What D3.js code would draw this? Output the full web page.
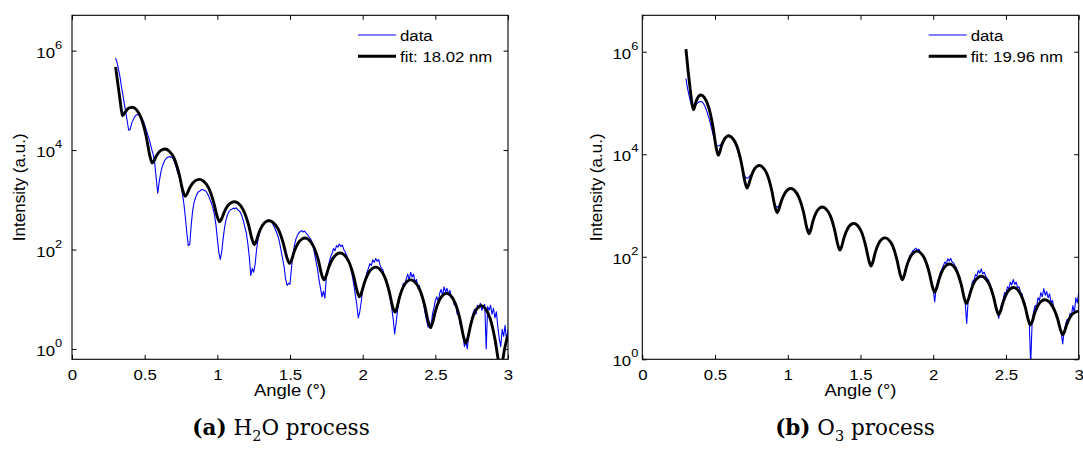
<!DOCTYPE html>
<html>
<head>
<meta charset="utf-8">
<script src="https://cdn.jsdelivr.net/npm/d3@7"></script>
<style>
  body { margin: 0; background: #fff; }
  svg { display: block; }
  .mat text { font-family: "Liberation Sans", Arial, Helvetica, sans-serif; fill: #000; }
  .caption { font-family: "DejaVu Serif", serif; fill: #000; }
</style>
</head>
<body>
<svg id="fig" width="1083" height="458"></svg>
<script>
// ---- measured reflectivity (sampled every 0.01 deg from 0.30 deg) ----
const angleStart = 0.30;
const angleStep = 0.01;

const h2oData = [
  7.1e5, 5.8e5, 4.2e5, 3.0e5, 1.9e5, 1.3e5, 8.5e4, 5.8e4, 3.8e4, 2.5e4,
  2.6e4, 3.4e4, 4.0e4, 4.6e4, 5.0e4, 5.2e4, 5.1e4, 4.8e4, 4.4e4, 3.9e4,
  3.2e4, 2.6e4, 2.1e4, 1.7e4, 1.3e4, 1.0e4, 7.9e3, 5.2e3, 2.6e3, 1.35e3,
  2.3e3, 3.4e3, 4.6e3, 5.5e3, 6.3e3, 6.9e3, 7.2e3, 7.4e3, 7.2e3, 7.1e3,
  6.3e3, 5.2e3, 4.2e3, 3.3e3, 2.8e3, 2.0e3, 1.3e3, 830, 440, 220,
  120, 126, 300, 600, 890, 1.1e3, 1.3e3, 1.45e3, 1.5e3, 1.6e3,
  1.6e3, 1.55e3, 1.5e3, 1.35e3, 1.2e3, 1.0e3, 850, 680, 500, 320,
  166, 89, 63, 89, 166, 280, 400, 500, 575, 630,
  645, 680, 660, 690, 630, 600, 550, 460, 370, 280,
  210, 130, 71, 30, 42, 35, 50, 100, 160, 210,
  260, 300, 340, 360, 380, 400, 380, 360, 330, 290,
  250, 210, 175, 130, 91, 63, 44, 25, 19, 21,
  20, 42, 79, 120, 160, 190, 215, 230, 240, 225,
  235, 215, 200, 180, 166, 145, 120, 79, 56, 40,
  24, 16.6, 11.2, 14.5, 10.5, 28, 40, 56, 72, 85,
  105, 95, 120, 112, 129, 115, 123, 100, 89, 76,
  63, 52, 40, 28, 19, 12, 7.6, 4.2, 5.6, 8.9,
  15, 20, 26, 35, 42, 52, 48, 62, 55, 66,
  58, 63, 48, 42, 38, 29, 25, 18, 14, 10,
  6.6, 4.0, 2.0, 3.3, 6.0, 8.9, 12.6, 15, 21, 19,
  26, 32, 24, 35, 28, 32, 22, 25, 16.6, 19,
  12.6, 10.5, 7.9, 5.2, 3.8, 2.75, 3.5, 2.6, 5.0, 6.6,
  9.5, 11.2, 8.9, 13.2, 15.8, 12, 17.8, 14.1, 16.6, 12.6,
  15.1, 10.5, 11.2, 7.6, 8.3, 5.0, 5.6, 3.2, 2.6, 1.9,
  1.12, 1.41, 1.0, 2.0, 2.8, 4.0, 5.2, 6.3, 5.0, 7.6,
  6.6, 8.3, 6.0, 7.2, 7.9, 1.0, 7.1, 6.0, 7.6, 5.0,
  6.6, 4.2, 5.6, 2.8, 1.6, 1.12, 2.5, 1.8, 3.0, 1.4,
  2.5
];

const o3Data = [
  3.0e5, 2.0e5, 1.45e5, 1.1e5, 8.9e4, 7.9e4, 8.3e4, 9.3e4, 1.0e5, 1.05e5,
  1.07e5, 1.05e5, 9.8e4, 8.7e4, 7.4e4, 6.0e4, 4.9e4, 3.8e4, 2.9e4, 2.2e4,
  1.8e4, 1.5e4, 1.45e4, 1.48e4, 1.55e4, 1.74e4, 1.95e4, 2.1e4, 2.2e4, 2.3e4,
  2.2e4, 2.1e4, 2.0e4, 1.8e4, 1.55e4, 1.3e4, 1.07e4, 8.5e3, 6.6e3, 5.0e3,
  4.0e3, 3.5e3, 3.4e3, 3.5e3, 3.8e3, 4.0e3, 4.6e3, 5.0e3, 5.5e3, 5.8e3,
  5.9e3, 5.9e3, 5.8e3, 5.5e3, 5.0e3, 4.5e3, 3.9e3, 3.2e3, 2.5e3, 1.95e3,
  1.4e3, 1.1e3, 950, 930, 1.0e3, 1.12e3, 1.35e3, 1.55e3, 1.74e3, 1.9e3,
  2.0e3, 2.1e3, 2.1e3, 2.1e3, 2.0e3, 1.9e3, 1.74e3, 1.55e3, 1.35e3, 1.12e3,
  890, 690, 525, 400, 340, 330, 370, 470, 575, 675,
  760, 830, 890, 910, 910, 890, 850, 795, 725, 645,
  550, 445, 345, 265, 190, 148, 135, 155, 200, 250,
  295, 345, 380, 415, 435, 445, 435, 425, 405, 370,
  330, 290, 235, 185, 140, 105, 79, 68, 72, 91,
  117, 141, 170, 190, 209, 224, 234, 240, 229, 219,
  204, 186, 162, 135, 110, 87, 68, 51, 40, 36,
  43, 59, 72, 89, 107, 115, 132, 138, 148, 135,
  141, 126, 112, 102, 91, 76, 63, 50, 40, 30,
  23, 13.2, 25, 32, 40, 50, 58, 68, 79, 72,
  91, 83, 93, 79, 76, 66, 60, 48, 42, 32,
  24, 17.8, 12.6, 5.0, 14.1, 20, 24, 33, 35, 45,
  42, 54, 48, 58, 46, 50, 42, 38, 35, 28,
  25, 19, 15.8, 11.2, 9.1, 6.3, 8.9, 12, 14.1, 20,
  19, 26, 24, 32, 28, 36, 29, 32, 25, 26,
  20, 19, 14.1, 12.6, 8.9, 7.1, 5.2, 0.8, 5.6, 8.3,
  11.2, 10.5, 15.8, 14.1, 20, 16.6, 24, 17.8, 21, 15.8,
  19, 12.6, 14.1, 9.5, 8.3, 7.1, 5.0, 4.2, 3.2, 2.0,
  3.5, 4.8, 6.0, 5.0, 7.9, 7.1, 11.2, 7.9, 15.8, 12.6,
  20
];

// ---- model fits (angle in deg, intensity) ----
const h2oFitAngle = [
  0.300, 0.315, 0.330, 0.340, 0.348,
  0.368, 0.385, 0.402, 0.416,
  0.443, 0.477, 0.511, 0.536, 0.552,
  0.563, 0.578, 0.600, 0.622, 0.640,
  0.668, 0.703, 0.737, 0.762, 0.779,
  0.791, 0.808, 0.833, 0.857, 0.877,
  0.905, 0.940, 0.974, 0.999, 1.016,
  1.028, 1.047, 1.072, 1.098, 1.118,
  1.145, 1.180, 1.214, 1.239, 1.255,
  1.267, 1.285, 1.310, 1.335, 1.355,
  1.383, 1.419, 1.454, 1.480, 1.497,
  1.510, 1.529, 1.555, 1.582, 1.603,
  1.629, 1.662, 1.695, 1.718, 1.734,
  1.747, 1.767, 1.795, 1.823, 1.845,
  1.872, 1.905, 1.938, 1.962, 1.978,
  1.991, 2.012, 2.040, 2.068, 2.090,
  2.116, 2.149, 2.182, 2.206, 2.222,
  2.235, 2.254, 2.281, 2.308, 2.330,
  2.357, 2.392, 2.426, 2.451, 2.467,
  2.480, 2.500, 2.528, 2.556, 2.578,
  2.604, 2.637, 2.670, 2.694, 2.710,
  2.723, 2.742, 2.768, 2.795, 2.816,
  2.843, 2.878, 2.912, 2.937, 2.953,
  2.965, 2.980, 3.000
];
const h2oFitIntensity = [
  4.7e5, 2.2e5, 1.05e5, 6.3e4, 4.9e4,
  5.9e4, 6.8e4, 7.15e4, 7.25e4,
  6.5e4, 4.3e4, 1.85e4, 7.6e3, 5.5e3,
  6.0e3, 7.4e3, 9.2e3, 1.02e4, 1.05e4,
  9.6e3, 6.8e3, 3.3e3, 1.55e3, 1.17e3,
  1.3e3, 1.7e3, 2.2e3, 2.5e3, 2.57e3,
  2.38e3, 1.74e3, 910, 460, 363,
  407, 560, 760, 880, 912,
  843, 614, 319, 161, 126,
  145, 212, 305, 364, 380,
  352, 256, 133, 67, 52.5,
  60.8, 91, 134, 162, 170,
  157, 115, 61, 31.3, 24.5,
  28.7, 44, 66.4, 81, 85,
  78.5, 56.8, 29.1, 14.5, 11.2,
  13.3, 21.4, 33.6, 41.8, 44.2,
  40.6, 29.1, 14.6, 7.13, 5.5,
  6.62, 11.1, 18.2, 23.1, 24.5,
  22.5, 15.8, 7.6, 3.55, 2.69,
  3.28, 5.68, 9.6, 12.4, 13.2,
  12.0, 8.3, 3.9, 1.76, 1.32,
  1.64, 2.96, 5.25, 6.9, 7.4,
  6.56, 4.04, 1.48, 0.52, 0.355,
  0.63, 1.12, 1.9
];

const o3FitAngle = [
  0.300, 0.315, 0.330, 0.342, 0.352,
  0.358, 0.367, 0.380, 0.392, 0.402,
  0.426, 0.456, 0.486, 0.508, 0.522,
  0.531, 0.544, 0.562, 0.580, 0.594,
  0.619, 0.651, 0.682, 0.705, 0.720,
  0.730, 0.746, 0.767, 0.788, 0.805,
  0.829, 0.860, 0.890, 0.912, 0.927,
  0.938, 0.955, 0.979, 1.002, 1.021,
  1.046, 1.077, 1.109, 1.131, 1.146,
  1.157, 1.173, 1.196, 1.219, 1.237,
  1.261, 1.292, 1.322, 1.344, 1.359,
  1.370, 1.387, 1.411, 1.434, 1.453,
  1.477, 1.507, 1.536, 1.558, 1.572,
  1.584, 1.601, 1.625, 1.649, 1.668,
  1.692, 1.722, 1.751, 1.773, 1.787,
  1.799, 1.817, 1.843, 1.868, 1.888,
  1.912, 1.943, 1.973, 1.995, 2.010,
  2.022, 2.041, 2.066, 2.092, 2.112,
  2.135, 2.164, 2.193, 2.214, 2.228,
  2.240, 2.259, 2.284, 2.310, 2.330,
  2.354, 2.384, 2.414, 2.436, 2.450,
  2.462, 2.481, 2.506, 2.532, 2.552,
  2.575, 2.604, 2.633, 2.654, 2.668,
  2.680, 2.697, 2.722, 2.746, 2.766,
  2.791, 2.822, 2.854, 2.876, 2.891,
  2.903, 2.920, 2.945, 2.970, 3.000
];
const o3FitIntensity = [
  1.12e6, 4.2e5, 1.78e5, 9.5e4, 7.4e4,
  8.05e4, 1.01e5, 1.25e5, 1.39e5, 1.43e5,
  1.28e5, 8.3e4, 3.4e4, 1.34e4, 9.5e3,
  1.07e4, 1.44e4, 1.92e4, 2.21e4, 2.29e4,
  2.08e4, 1.43e4, 6.6e3, 2.94e3, 2.19e3,
  2.48e3, 3.52e3, 4.92e3, 5.78e3, 6.03e3,
  5.53e3, 3.94e3, 1.96e3, 944, 724,
  830, 1.2e3, 1.72e3, 2.05e3, 2.14e3,
  1.97e3, 1.43e3, 731, 363, 282,
  327, 494, 735, 889, 933,
  863, 634, 335, 172, 135,
  157, 237, 352, 426, 447,
  414, 305, 162, 84, 66,
  77.4, 120, 182, 223, 234,
  217, 161, 86, 45, 35.5,
  41.7, 65, 99.5, 122, 129,
  120, 89, 48.5, 25.7, 20.4,
  23.9, 37.1, 56.2, 68.9, 72.4,
  67.5, 50.8, 28.3, 15.3, 12.3,
  14.3, 21.8, 32.7, 39.7, 41.7,
  38.9, 29.5, 16.7, 9.2, 7.41,
  8.63, 13.2, 19.7, 23.9, 25.1,
  23.5, 17.9, 10.3, 5.77, 4.68,
  5.38, 7.94, 11.5, 13.8, 14.5,
  13.6, 10.6, 6.31, 3.67, 3.02,
  3.51, 5.01, 6.92, 8.13, 8.71
];

// ---- axes ticks and labels ----
const xTicks = [0, 0.5, 1, 1.5, 2, 2.5, 3];
const yTicks = [1, 1e2, 1e4, 1e6];
const legendLabels = ["data", "fit: 18.02 nm", "fit: 19.96 nm"];
const xLabel = "Angle (°)";
const yLabel = "Intensity (a.u.)";

// ---- layout ----
const svg = d3.select("#fig");
const plotTop = 15.3, plotBottom = 359.3;
const yMax = 5.13e6;
const TXT = 15;       // tick/legend font size
const SX = 1.12;      // horizontal text stretch of the exported figure

function stretch(sel) {
  sel.each(function () {
    const t = d3.select(this);
    const x = +t.attr("x") || 0;
    t.attr("x", x / SX).attr("transform", `scale(${SX},1)`);
  });
}

function drawPanel(cfg) {
  const x = d3.scaleLinear().domain([0, 3]).range([cfg.left, cfg.right]);
  const y = d3.scaleLog().domain([cfg.yMin, yMax]).range([plotBottom, plotTop]);
  const g = svg.append("g").attr("class", "mat");

  const clipId = "clip-" + cfg.id;
  svg.append("clipPath").attr("id", clipId)
    .append("rect")
    .attr("x", cfg.left).attr("y", plotTop)
    .attr("width", cfg.right - cfg.left).attr("height", plotBottom - plotTop);

  const plot = g.append("g").attr("clip-path", `url(#${clipId})`);

  const dataLine = d3.line()
    .x((d, i) => x(angleStart + i * angleStep))
    .y(d => y(d));
  plot.append("path")
    .attr("d", dataLine(cfg.data))
    .attr("fill", "none")
    .attr("stroke", "#0000ff")
    .attr("stroke-width", 1.1)
    .attr("stroke-linejoin", "round");

  const fitLine = d3.line()
    .curve(d3.curveMonotoneX)
    .x((d, i) => x(cfg.fitAngle[i]))
    .y(d => y(d));
  plot.append("path")
    .attr("d", fitLine(cfg.fitIntensity))
    .attr("fill", "none")
    .attr("stroke", "#000")
    .attr("stroke-width", 2.9)
    .attr("stroke-linejoin", "round");

  // axes with inward ticks on all four sides
  const tickLen = -4.5;
  const fmt = d3.format("~g");

  const bottomAxis = g.append("g")
    .attr("transform", `translate(0,${plotBottom})`)
    .call(d3.axisBottom(x).tickValues(xTicks).tickFormat(fmt)
      .tickSizeInner(tickLen).tickSizeOuter(0).tickPadding(10));
  const topAxis = g.append("g")
    .attr("transform", `translate(0,${plotTop})`)
    .call(d3.axisTop(x).tickValues(xTicks).tickFormat(() => "")
      .tickSizeInner(tickLen).tickSizeOuter(0));
  const leftAxis = g.append("g")
    .attr("transform", `translate(${cfg.left},0)`)
    .call(d3.axisLeft(y).tickValues(yTicks)
      .tickSizeInner(tickLen).tickSizeOuter(0).tickPadding(cfg.yLabelGap));
  const rightAxis = g.append("g")
    .attr("transform", `translate(${cfg.right},0)`)
    .call(d3.axisRight(y).tickValues(yTicks).tickFormat(() => "")
      .tickSizeInner(tickLen).tickSizeOuter(0));

  [bottomAxis, topAxis, leftAxis, rightAxis].forEach(a => {
    a.attr("font-size", null).attr("font-family", null);
    a.select(".domain").remove();
    a.selectAll(".tick line").attr("stroke", "#000").attr("stroke-width", 1);
  });

  bottomAxis.selectAll(".tick text").attr("font-size", TXT).call(stretch);

  leftAxis.selectAll(".tick text")
    .attr("font-size", TXT)
    .attr("dy", "0.44em")
    .each(function (d) {
      const t = d3.select(this);
      t.text(null);
      t.append("tspan").text("10");
      t.append("tspan").attr("dy", -9).attr("font-size", 11.5)
        .text(Math.round(Math.log10(d)));
    })
    .call(stretch);

  // frame
  g.append("rect")
    .attr("x", cfg.left).attr("y", plotTop)
    .attr("width", cfg.right - cfg.left).attr("height", plotBottom - plotTop)
    .attr("fill", "none").attr("stroke", "#000").attr("stroke-width", 1.1);

  // axis titles
  g.append("g")
    .attr("transform", `translate(${(cfg.left + cfg.right) / 2},396)`)
    .append("text")
    .attr("text-anchor", "middle")
    .attr("font-size", 16.5)
    .attr("transform", `scale(${SX},1)`)
    .text(xLabel);

  g.append("text")
    .attr("transform", `translate(${cfg.left - cfg.yTitleGap},${(plotTop + plotBottom) / 2}) rotate(-90)`)
    .attr("text-anchor", "middle")
    .attr("font-size", 17)
    .text(yLabel);

  // legend (no frame)
  const lg = g.append("g").attr("transform", `translate(${cfg.right - 150},0)`);
  const entries = [
    { label: legendLabels[0], color: "#0000ff", width: 1.1, y: 35 },
    { label: cfg.fitLabel, color: "#000", width: 2.9, y: 56.3 }
  ];
  entries.forEach(e => {
    lg.append("line")
      .attr("x1", 0).attr("x2", 38).attr("y1", e.y).attr("y2", e.y)
      .attr("stroke", e.color).attr("stroke-width", e.width);
    lg.append("g").attr("transform", `translate(42,${e.y + 5.8})`)
      .append("text")
      .attr("font-size", TXT)
      .attr("transform", `scale(${SX},1)`)
      .text(e.label);
  });
}

drawPanel({
  id: "h2o", left: 72, right: 508, yMin: 0.62,
  data: h2oData, fitAngle: h2oFitAngle, fitIntensity: h2oFitIntensity,
  fitLabel: legendLabels[1], yLabelGap: 11 / SX, yTitleGap: 47
});
drawPanel({
  id: "o3", left: 642.3, right: 1078.7, yMin: 1,
  data: o3Data, fitAngle: o3FitAngle, fitIntensity: o3FitIntensity,
  fitLabel: legendLabels[2], yLabelGap: 4.5 / SX, yTitleGap: 40
});

// sub-figure captions
function caption(cx, tag, before, sub, after) {
  const t = svg.append("text")
    .attr("class", "caption")
    .attr("x", cx).attr("y", 435)
    .attr("text-anchor", "middle")
    .attr("font-size", 21.5);
  t.append("tspan").attr("font-weight", "bold").text(tag);
  t.append("tspan").text(" " + before);
  t.append("tspan").attr("font-size", 14.5).attr("dy", 6).text(sub);
  t.append("tspan").attr("dy", -6).text(after);
}
caption(281, "(a)", "H", "2", "O process");
caption(855, "(b)", "O", "3", " process");
</script>
</body>
</html>
